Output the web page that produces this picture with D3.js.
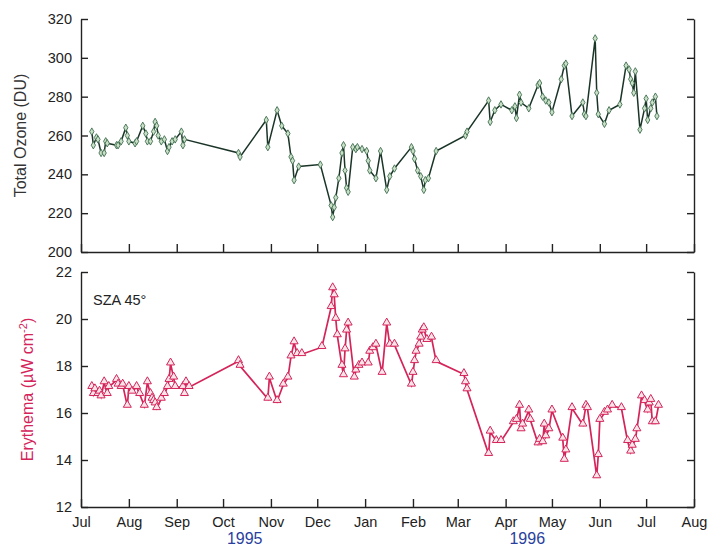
<!DOCTYPE html>
<html>
<head>
<meta charset="utf-8">
<script src="https://cdn.jsdelivr.net/npm/d3@7"></script>
<style>
  body { margin: 0; background: #fff; }
  text { font-family: "Liberation Sans", Arial, sans-serif; }
</style>
</head>
<body>
<div id="chart"></div>
<script>
// Data
const ozoneDates = [
  "1995-07-08","1995-07-09","1995-07-11","1995-07-12","1995-07-14","1995-07-16","1995-07-17","1995-07-18",
  "1995-07-24","1995-07-25","1995-07-27","1995-07-30","1995-07-31","1995-08-01","1995-08-05","1995-08-06",
  "1995-08-10","1995-08-12","1995-08-13","1995-08-15","1995-08-17","1995-08-18","1995-08-19","1995-08-20",
  "1995-08-22","1995-08-24","1995-08-26","1995-08-27","1995-08-29","1995-08-31","1995-09-04","1995-09-05",
  "1995-09-06","1995-10-11","1995-10-12","1995-10-29","1995-10-30","1995-11-05","1995-11-08","1995-11-12",
  "1995-11-14","1995-11-15","1995-11-16","1995-11-19","1995-12-03","1995-12-10","1995-12-11","1995-12-12",
  "1995-12-13","1995-12-15","1995-12-17","1995-12-18","1995-12-19","1995-12-20","1995-12-21","1995-12-24",
  "1995-12-26","1995-12-27","1995-12-30","1996-01-02","1996-01-03","1996-01-04","1996-01-08","1996-01-11",
  "1996-01-15","1996-01-17","1996-01-20","1996-01-31","1996-02-01","1996-02-02","1996-02-04","1996-02-06",
  "1996-02-08","1996-02-09","1996-02-11","1996-02-16","1996-03-06","1996-03-07","1996-03-21","1996-03-22",
  "1996-03-25","1996-03-29","1996-04-05","1996-04-07","1996-04-08","1996-04-10","1996-04-11","1996-04-16",
  "1996-04-22","1996-04-23","1996-04-25","1996-04-27","1996-04-29","1996-05-01","1996-05-07","1996-05-09",
  "1996-05-10","1996-05-14","1996-05-21","1996-05-22","1996-05-23","1996-05-29","1996-05-30","1996-05-31",
  "1996-06-04","1996-06-07","1996-06-14","1996-06-18","1996-06-20","1996-06-21","1996-06-22","1996-06-23",
  "1996-06-24","1996-06-27","1996-06-30","1996-07-01","1996-07-02","1996-07-04","1996-07-05","1996-07-07",
  "1996-07-08"
];
const ozoneValues = [
  262,255,259,258,251,251,257,256,
  255,255,257,264,260,257,256,257,
  265,261,257,257,262,267,265,260,
  257,258,252,254,257,258,262,255,
  258,251,249,268,254,273,265,261,
  249,247,237,244,245,224,218,223,
  228,238,251,255,242,233,231,254,
  253,254,253,252,247,242,238,252,
  232,239,243,254,252,248,242,239,
  232,237,238,252,260,262,278,267,
  273,276,273,275,269,281,277,274,
  286,287,280,278,277,272,289,296,
  297,270,277,271,270,310,282,271,
  266,273,276,296,294,289,287,282,
  293,263,274,279,268,274,277,280,
  270
];

const erythemaDates = [
  "1995-07-08","1995-07-09","1995-07-10","1995-07-12","1995-07-13","1995-07-14","1995-07-16","1995-07-18",
  "1995-07-19","1995-07-24","1995-07-25","1995-07-27","1995-07-28","1995-07-31","1995-08-01","1995-08-03",
  "1995-08-06","1995-08-08","1995-08-11","1995-08-13","1995-08-15","1995-08-16","1995-08-17","1995-08-18",
  "1995-08-19","1995-08-22","1995-08-24","1995-08-26","1995-08-27","1995-08-28","1995-08-30","1995-08-31",
  "1995-09-05","1995-09-06","1995-09-07","1995-09-09","1995-10-11","1995-10-12","1995-10-30","1995-10-31",
  "1995-11-05","1995-11-09","1995-11-12","1995-11-14","1995-11-16","1995-11-18","1995-11-21","1995-12-04",
  "1995-12-10","1995-12-11","1995-12-12","1995-12-13","1995-12-14","1995-12-17","1995-12-18","1995-12-19",
  "1995-12-20","1995-12-21","1995-12-25","1995-12-26","1995-12-28","1995-12-30","1996-01-03","1996-01-04",
  "1996-01-06","1996-01-08","1996-01-12","1996-01-15","1996-01-17","1996-01-20","1996-01-31","1996-02-01",
  "1996-02-02","1996-02-03","1996-02-05","1996-02-06","1996-02-07","1996-02-08","1996-02-10","1996-02-13",
  "1996-02-16","1996-03-05","1996-03-06","1996-03-07","1996-03-21","1996-03-22","1996-03-26","1996-03-29",
  "1996-04-06","1996-04-08","1996-04-10","1996-04-11","1996-04-12","1996-04-16","1996-04-17","1996-04-22",
  "1996-04-23","1996-04-25","1996-04-26","1996-04-27","1996-04-29","1996-05-01","1996-05-08","1996-05-09",
  "1996-05-10","1996-05-14","1996-05-21","1996-05-23","1996-05-24","1996-05-30","1996-05-31","1996-06-01",
  "1996-06-04","1996-06-06","1996-06-09","1996-06-15","1996-06-19","1996-06-21","1996-06-22","1996-06-24",
  "1996-06-25","1996-06-28","1996-06-30","1996-07-02","1996-07-03","1996-07-04","1996-07-05","1996-07-07",
  "1996-07-09"
];
const erythemaValues = [
  17.1,16.8,17.0,16.8,16.9,16.7,17.3,16.8,
  17.1,17.4,17.2,17.1,17.2,16.3,17.1,16.9,
  17.1,16.8,16.3,17.3,16.8,16.6,16.5,16.4,
  16.2,16.6,16.8,17.1,17.4,18.1,17.5,17.1,
  17.1,16.8,17.3,17.1,18.2,18.0,16.6,17.5,
  16.5,17.2,17.5,18.4,19.0,18.5,18.5,18.8,
  20.5,21.3,21.0,20.0,19.3,18.0,17.6,18.7,
  19.5,19.8,17.5,17.8,18.0,18.1,18.1,18.6,
  18.75,18.9,17.7,19.8,18.9,18.9,17.2,17.7,
  18.2,18.6,18.9,19.2,19.5,19.6,19.1,19.2,
  18.2,17.65,17.3,17.0,14.25,15.2,14.8,14.8,
  15.6,15.7,16.3,15.3,15.5,16.1,15.7,14.7,
  14.85,14.75,15.5,15.0,15.3,16.1,14.9,14.0,
  14.4,16.2,15.5,16.3,16.2,13.3,14.2,15.7,
  16.0,16.1,16.3,16.2,14.8,14.35,14.6,14.85,
  15.3,16.7,16.5,16.1,16.4,16.55,15.6,15.6,
  16.3
];

const ozoneTicks = [200, 220, 240, 260, 280, 300, 320];
const erythemaTicks = [12, 14, 16, 18, 20, 22];
const yearLabels = ["1995", "1996"];
const yearLabelDates = ["1995-10-15", "1996-04-15"];

const parseDate = d3.timeParse("%Y-%m-%d");
const ozone = ozoneDates.map((d, i) => ({ date: parseDate(d), value: ozoneValues[i] }));
const erythema = erythemaDates.map((d, i) => ({ date: parseDate(d), value: erythemaValues[i] }));

// Append the SVG container
const svg = d3.select("#chart")
  .append("svg")
  .attr("width", 708)
  .attr("height", 546);

const left = 81, right = 694;
const top1 = 19, bottom1 = 252;
const top2 = 272, bottom2 = 507;

const xScale = d3.scaleTime()
  .domain([new Date(1995, 6, 1), new Date(1996, 7, 1)])
  .range([left, right]);
const months = d3.timeMonth.range(new Date(1995, 6, 1), new Date(1996, 7, 2));

const yOzone = d3.scaleLinear().domain([200, 320]).range([bottom1, top1]);
const yEry = d3.scaleLinear().domain([12, 22]).range([bottom2, top2]);

const axisColor = "#222";
const styleAxis = g => {
  g.selectAll(".domain").attr("stroke", axisColor).attr("stroke-width", 1.4);
  g.selectAll(".tick line").attr("stroke", axisColor).attr("stroke-width", 1.4);
  g.selectAll(".tick text")
    .attr("fill", "#222")
    .style("font-size", "14.5px")
    .style("font-family", "'Liberation Sans', Arial, sans-serif");
};

// Draw one panel's frame (left, bottom, right axes with inward ticks)
const drawFrame = (yScale, ticks, yBottom, showMonths) => {
  svg.append("g")
    .attr("transform", `translate(${left},0)`)
    .call(d3.axisLeft(yScale).tickValues(ticks).tickSize(-7).tickSizeOuter(0).tickPadding(9))
    .call(styleAxis);

  svg.append("g")
    .attr("transform", `translate(${right},0)`)
    .call(d3.axisRight(yScale).tickValues(ticks).tickSize(-7).tickSizeOuter(0).tickFormat(""))
    .call(styleAxis);

  const xAxis = d3.axisBottom(xScale).tickValues(months).tickSize(-8).tickSizeOuter(0).tickPadding(10);
  xAxis.tickFormat(showMonths ? d3.timeFormat("%b") : "");
  svg.append("g")
    .attr("transform", `translate(0,${yBottom})`)
    .call(xAxis)
    .call(styleAxis);
};

drawFrame(yOzone, ozoneTicks, bottom1, false);
drawFrame(yEry, erythemaTicks, bottom2, true);

// Ozone series
const ozoneLine = d3.line().x(d => xScale(d.date)).y(d => yOzone(d.value));
svg.append("path")
  .datum(ozone)
  .attr("d", ozoneLine)
  .attr("fill", "none")
  .attr("stroke", "#1a3528")
  .attr("stroke-width", 1.5);

svg.selectAll(".oz")
  .data(ozone)
  .join("path")
    .attr("class", "oz")
    .attr("transform", d => `translate(${xScale(d.date)},${yOzone(d.value)})`)
    .attr("d", d3.symbol(d3.symbolDiamond).size(16))
    .attr("fill", "#c9dfc6")
    .attr("stroke", "#3f6e50")
    .attr("stroke-width", 0.9);

// Erythema series
const eryLine = d3.line().x(d => xScale(d.date)).y(d => yEry(d.value));
svg.append("path")
  .datum(erythema)
  .attr("d", eryLine)
  .attr("fill", "none")
  .attr("stroke", "#d4245a")
  .attr("stroke-width", 1.7);

svg.selectAll(".ery")
  .data(erythema)
  .join("path")
    .attr("class", "ery")
    .attr("transform", d => `translate(${xScale(d.date)},${yEry(d.value) - 1})`)
    .attr("d", d3.symbol(d3.symbolTriangle).size(28))
    .attr("fill", "#fbe3ea")
    .attr("stroke", "#d4245a")
    .attr("stroke-width", 1);

// Labels
svg.append("text")
  .attr("transform", `translate(26,${(top1 + bottom1) / 2}) rotate(-90)`)
  .attr("text-anchor", "middle")
  .attr("fill", "#333")
  .style("font-size", "16px")
  .text("Total Ozone (DU)");

const eryLabel = svg.append("text")
  .attr("transform", `translate(33,${(top2 + bottom2) / 2}) rotate(-90)`)
  .attr("text-anchor", "middle")
  .attr("fill", "#d4245a")
  .style("font-size", "16px");
eryLabel.append("tspan").text("Erythema (\u00b5W cm");
eryLabel.append("tspan").attr("dy", -6).style("font-size", "11px").text("-2");
eryLabel.append("tspan").attr("dy", 6).text(")");

svg.append("text")
  .attr("x", 93)
  .attr("y", 305)
  .attr("fill", "#222")
  .style("font-size", "14.5px")
  .text("SZA 45\u00b0");

svg.selectAll(".year")
  .data(yearLabels)
  .join("text")
    .attr("class", "year")
    .attr("x", (d, i) => xScale(parseDate(yearLabelDates[i])))
    .attr("y", 544)
    .attr("text-anchor", "middle")
    .attr("fill", "#2a3f9e")
    .style("font-size", "16px")
    .text(d => d);
</script>
</body>
</html>
